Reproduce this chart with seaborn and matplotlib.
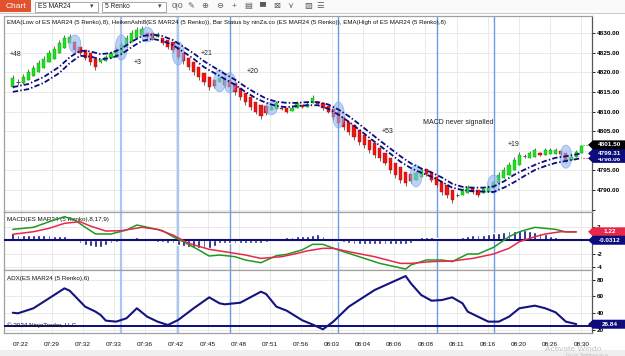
import numpy as np
import pandas as pd
import seaborn as sns
import matplotlib.pyplot as plt
from matplotlib.patches import Ellipse, Polygon, Rectangle
from matplotlib.ticker import FuncFormatter
from matplotlib.transforms import IdentityTransform, Bbox

# ---------------- datos (barras Renko / HeikenAshi) ----------------
bar_open = [4816.25, 4817.5, 4817.25, 4818.0, 4819.0, 4820.0, 4821.0, 4822.5, 4823.5, 4825.0,
            4826.25, 4827.5, 4827.75, 4826.5, 4825.75, 4825.0, 4823.5, 4822.5, 4822.75, 4823.75,
            4824.0, 4825.0, 4826.5, 4827.75, 4828.75, 4829.5, 4830.0, 4830.0, 4829.0, 4828.75,
            4828.25, 4827.75, 4826.5, 4825.0, 4823.75, 4822.5, 4821.25, 4819.75, 4818.75, 4818.0,
            4817.5, 4818.25, 4818.0, 4817.25, 4816.0, 4814.75, 4813.75, 4812.5, 4811.75, 4811.5,
            4810.5, 4810.75, 4811.0, 4811.0, 4810.25, 4811.0, 4811.75, 4811.25, 4812.25, 4812.5,
            4812.25, 4811.5, 4810.75, 4810.0, 4808.5, 4807.25, 4806.5, 4805.25, 4804.0, 4802.75,
            4802.0, 4800.75, 4799.5, 4798.25, 4797.0, 4795.75, 4794.5, 4794.0, 4792.5, 4793.25,
            4795.25, 4794.25, 4793.25, 4792.0, 4791.25, 4790.0, 4788.75, 4788.75, 4789.25, 4790.5,
            4790.0, 4789.25, 4789.5, 4790.5, 4791.75, 4793.0, 4793.75, 4795.0, 4796.5, 4798.75,
            4798.25, 4798.5, 4799.5, 4799.0, 4799.25, 4799.25, 4800.0, 4799.5, 4797.75, 4798.5,
            4799.5]
bar_close = [4818.5, 4817.5, 4818.75, 4820.0, 4821.0, 4822.25, 4823.5, 4825.0, 4826.0, 4827.5,
             4828.75, 4829.0, 4825.75, 4825.0, 4823.75, 4822.5, 4821.25, 4823.0, 4824.0, 4825.0,
             4825.75, 4827.0, 4828.75, 4830.0, 4830.75, 4831.0, 4829.0, 4828.75, 4829.75, 4827.5,
             4826.5, 4825.75, 4824.0, 4822.75, 4821.25, 4820.0, 4818.75, 4817.5, 4816.25, 4816.5,
             4818.5, 4816.75, 4816.25, 4815.0, 4813.75, 4812.5, 4811.25, 4810.0, 4808.75, 4809.5,
             4811.25, 4812.25, 4810.75, 4810.0, 4811.0, 4812.25, 4811.25, 4812.0, 4813.5, 4812.0,
             4811.0, 4810.0, 4808.5, 4807.0, 4806.0, 4804.75, 4803.5, 4802.25, 4801.5, 4800.25,
             4799.0, 4798.25, 4797.0, 4795.0, 4793.75, 4792.5, 4791.75, 4792.25, 4794.25, 4795.0,
             4794.0, 4792.5, 4791.25, 4789.5, 4788.75, 4787.5, 4788.75, 4790.0, 4790.75, 4789.5,
             4788.75, 4790.25, 4790.75, 4792.0, 4793.75, 4795.0, 4796.5, 4797.75, 4799.0, 4798.75,
             4799.5, 4800.25, 4799.0, 4800.25, 4800.25, 4800.25, 4799.25, 4797.75, 4798.5, 4799.75,
             4801.25]
bar_high = [4819.25, 4818.25, 4819.5, 4820.75, 4821.75, 4823.0, 4824.25, 4825.75, 4826.75, 4828.25,
            4829.5, 4829.75, 4828.0, 4826.5, 4825.75, 4825.0, 4823.5, 4823.5, 4824.5, 4825.5,
            4826.5, 4827.75, 4829.5, 4830.75, 4831.5, 4831.75, 4830.0, 4830.0, 4830.25, 4828.75,
            4828.25, 4827.75, 4826.5, 4825.0, 4823.75, 4822.5, 4821.25, 4819.75, 4818.75, 4818.0,
            4819.0, 4818.25, 4818.0, 4817.25, 4816.0, 4814.75, 4813.75, 4812.5, 4811.75, 4811.5,
            4811.75, 4812.75, 4811.25, 4811.0, 4811.5, 4812.75, 4811.75, 4812.5, 4814.25, 4812.5,
            4812.25, 4811.5, 4810.75, 4810.0, 4808.5, 4807.25, 4806.5, 4805.25, 4804.0, 4802.75,
            4802.0, 4800.75, 4799.5, 4798.25, 4797.0, 4795.75, 4794.5, 4794.0, 4794.75, 4795.5,
            4795.25, 4794.25, 4793.25, 4792.0, 4791.25, 4790.0, 4789.25, 4790.5, 4791.25, 4790.5,
            4790.0, 4790.75, 4791.25, 4792.5, 4794.5, 4795.75, 4797.25, 4798.5, 4799.75, 4799.25,
            4800.0, 4800.75, 4799.75, 4800.75, 4800.75, 4800.75, 4800.0, 4799.5, 4799.0, 4800.25,
            4801.5]
bar_low = [4816.0, 4816.75, 4817.0, 4818.0, 4819.0, 4820.0, 4821.0, 4822.5, 4823.5, 4825.0,
           4826.25, 4827.5, 4825.25, 4824.5, 4823.0, 4821.75, 4820.5, 4822.25, 4822.75, 4823.75,
           4824.0, 4825.0, 4826.5, 4827.75, 4828.75, 4829.5, 4828.5, 4828.25, 4829.0, 4827.0,
           4826.0, 4825.0, 4823.25, 4822.0, 4820.5, 4819.25, 4818.0, 4816.75, 4815.5, 4816.0,
           4817.5, 4816.25, 4815.5, 4814.25, 4813.0, 4811.75, 4810.5, 4809.25, 4808.0, 4809.0,
           4810.5, 4810.75, 4810.5, 4809.5, 4810.25, 4811.0, 4811.0, 4811.25, 4812.25, 4811.75,
           4810.5, 4809.5, 4807.75, 4806.25, 4805.25, 4804.0, 4802.75, 4801.5, 4800.75, 4799.5,
           4798.25, 4797.5, 4796.25, 4794.25, 4793.0, 4791.75, 4791.0, 4791.75, 4792.5, 4793.25,
           4793.5, 4792.0, 4790.75, 4788.75, 4788.0, 4786.75, 4788.25, 4788.75, 4789.25, 4789.0,
           4788.25, 4789.25, 4789.5, 4790.5, 4791.75, 4793.0, 4793.75, 4795.0, 4796.5, 4798.25,
           4798.25, 4798.5, 4798.75, 4799.0, 4799.25, 4799.25, 4798.75, 4797.0, 4797.75, 4798.5,
           4799.5]

ema_bar = [0, 3, 6, 9, 11, 13, 15, 17, 19, 21, 23, 25, 27, 29, 31, 33, 35, 37, 39, 41,
           43, 45, 47, 49, 51, 53, 55, 57, 59, 61, 63, 65, 67, 69, 71, 73, 75, 77, 79, 81,
           83, 85, 87, 89, 91, 93, 95, 97, 99, 101, 103, 105, 107, 110]
ema_high = [4816.2, 4817.0, 4818.8, 4821.4, 4823.8, 4825.5, 4825.3, 4824.6, 4824.9, 4826.0,
            4827.8, 4829.2, 4829.6, 4829.2, 4828.2, 4826.5, 4824.8, 4822.8, 4821.2, 4819.6,
            4818.1, 4816.3, 4814.7, 4813.3, 4812.5, 4812.2, 4812.2, 4812.4, 4812.4, 4811.8,
            4810.5, 4808.8, 4806.8, 4804.7, 4802.6, 4800.6, 4798.6, 4796.8, 4795.5, 4794.5,
            4793.2, 4791.6, 4790.8, 4790.6, 4790.6, 4790.9, 4792.2, 4793.9, 4795.2, 4796.4,
            4797.4, 4798.2, 4798.6, 4799.3]
ema_low = [4815.0, 4815.7, 4817.3, 4819.8, 4822.3, 4824.2, 4824.0, 4823.3, 4823.6, 4824.6,
           4826.4, 4828.0, 4828.5, 4828.0, 4826.9, 4825.2, 4823.4, 4821.3, 4819.8, 4818.3,
           4816.8, 4815.0, 4813.4, 4812.2, 4811.4, 4811.1, 4811.4, 4811.6, 4811.6, 4810.7,
           4809.2, 4807.4, 4805.4, 4803.3, 4801.3, 4799.3, 4797.2, 4795.6, 4794.4, 4793.4,
           4792.1, 4790.6, 4790.0, 4789.7, 4789.6, 4789.5, 4790.6, 4792.0, 4793.6, 4795.1,
           4796.1, 4796.9, 4797.4, 4798.1]

# señales (elipses) y líneas verticales
signal_bars = [21, 32, 42, 63, 82, 93]
marked_bars = [12, 21, 26, 32, 40, 42, 50, 63, 78, 93, 107]
marked_mid = [4827.2, 4826.3, 4829.6, 4824.8, 4817.8, 4817.3, 4810.8, 4809.1, 4793.6, 4791.5, 4798.5]
marked_span = [4.6, 6.4, 3.8, 5.9, 5.6, 5.1, 3.3, 6.6, 5.6, 4.6, 5.9]

notes = ["+48", "+3", "+21", "+20", "+53", "MACD never signalled", "+19"]
note_x = [0.45, 24.1, 37.5, 46.4, 72.6, 86.1, 96.9]
note_y = [4824.4, 4822.4, 4824.9, 4820.3, 4804.8, 4807.1, 4801.7]

# MACD(8,17,9)
macd_bar = [0, 4, 7, 10, 12, 14, 16, 19, 22, 24, 27, 29, 31, 33, 36, 38, 40, 43, 45, 48,
            51, 53, 56, 58, 60, 63, 67, 71, 76, 77, 80, 83, 85, 88, 90, 93, 96, 98, 101, 103,
            105, 107, 109]
macd_line = [1.58, 1.88, 2.7, 3.46, 2.95, 1.9, 0.9, 0.89, 1.48, 2.22, 1.73, 1.38, 0.49, -0.25, -1.48,
             -2.37, -2.22, -2.47, -2.96, -3.36, -2.32, -2.12, -1.45, -0.64, -0.64, -1.48, -2.47,
             -3.46, -4.3, -3.7, -2.96, -2.96, -3.2, -2.07, -2.07, -1.09, 0.49, 1.23, 1.88, 1.73,
             1.58, 1.2, 1.19]
signal_bar = [0, 4, 7, 10, 13, 15, 18, 21, 25, 28, 31, 34, 38, 41, 45, 48, 52, 55, 57, 60,
              62, 65, 70, 75, 77, 81, 85, 89, 93, 96, 98, 101, 103, 106, 109]
signal_line = [0.84, 1.23, 1.73, 2.47, 2.72, 2.07, 1.33, 1.38, 1.88, 1.58, 0.74, -0.49, -1.38,
               -1.73, -2.22, -2.72, -2.47, -1.98, -1.6, -1.23, -1.23, -1.73, -2.47, -3.46, -3.46,
               -3.2, -3.1, -2.72, -2.07, -1.23, -0.25, 0.49, 0.89, 1.23, 1.22]
macd_hist = [1.0, 0.7, 0.7, 0.7, 0.7, 0.7, 0.7, 0.7, 0.65, 0.65,
             0.6, 0.3, 0.0, -0.45, -0.7, -0.95, -1.1, -1.0, -0.75, -0.5,
             -0.3, 0.0, 0.15, 0.3, 0.4, 0.15, 0.0, -0.15, -0.25, -0.35,
             -0.45, -0.5, -0.7, -0.9, -1.0, -1.1, -1.15, -1.2, -1.2, -0.9,
             -0.5, -0.5, -0.5, -0.45, -0.45, -0.45, -0.45, -0.5, -0.5, -0.3,
             0.0, 0.35, 0.35, 0.45, 0.5, 0.6, 0.6, 0.65, 0.75, 0.85,
             0.6, 0.25, 0.0, -0.15, -0.35, -0.45, -0.6, -0.65, -0.65, -0.65,
             -0.65, -0.65, -0.65, -0.65, -0.65, -0.65, -0.65, -0.4, 0.0, 0.5,
             0.5, 0.4, 0.25, 0.15, 0.0, 0.0, 0.0, 0.5, 0.6, 0.75,
             0.75, 0.75, 0.9, 1.0, 1.1, 1.25, 1.35, 1.4, 1.45, 1.45,
             1.3, 1.15, 1.0, 0.9, 0.6, 0.5, 0.3, 0.1, -0.05, -0.05,
             -0.03]

# ADX(6)
adx_bar = [0, 1, 4, 7, 10, 11, 14, 16, 17, 18, 20, 22, 24, 26, 28, 30, 32, 35, 38, 40,
           41, 44, 48, 49, 51, 53, 56, 58, 60, 62, 65, 70, 74, 76, 77, 79, 81, 83, 85, 87,
           88, 90, 92, 94, 96, 98, 101, 103, 105, 107, 109]
adx_vals = [40.5, 39.8, 45.8, 57.6, 69.5, 66.7, 47.7, 41.8, 37.8, 31.1, 29.9, 33.9, 45.8, 35.8,
            29.9, 25.9, 31.9, 45.8, 58.8, 51.7, 50.5, 52.4, 65.5, 62.8, 47.7, 42.9, 31.5, 26.5,
            20.8, 29.9, 47.7, 67.5, 78.6, 84.1, 75.5, 61.6, 54.8, 55.6, 58.8, 51.7, 41.8, 35.8,
            29.9, 29.9, 35.8, 45.8, 48.9, 45.8, 41.0, 29.9, 27.0]

tick_pos = [1.5, 7.5, 13.6, 19.6, 25.6, 31.6, 37.7, 43.7, 49.7, 55.7, 61.8, 67.8, 73.8, 79.8,
            85.9, 91.9, 97.9, 103.9, 110.0]
tick_labels = ["07:22", "07:29", "07:32", "07:33", "07:36", "07:42", "07:45", "07:48", "07:51",
               "07:56", "08:03", "08:04", "08:06", "08:08", "08:11", "08:16", "08:20", "08:26", "08:30"]

# ---------------- figura ----------------
sns.set_style("white")
plt.rcParams['font.family'] = ['Liberation Sans', 'DejaVu Sans']

W, H = 625, 356
fig = plt.figure(figsize=(W / 100, H / 100), dpi=100)
fig.patch.set_facecolor('white')
NAVY = '#0c0c7c'


def px_axes(x0, y0, x1, y1):
    return fig.add_axes([x0 / W, 1 - y1 / H, (x1 - x0) / W, (y1 - y0) / H])


def px_rect(x0, y0, x1, y1, **kw):
    fig.add_artist(Rectangle((x0, H - y1), x1 - x0, y1 - y0, transform=IdentityTransform(), **kw))


def px_text(x, y, s, **kw):
    return fig.text(x / W, 1 - y / H, s, **kw)


ax1 = px_axes(4, 16, 592, 212)
ax2 = px_axes(4, 212, 592, 270)
ax3 = px_axes(4, 270, 592, 333)

for ax in (ax1, ax2, ax3):
    ax.set_xlim(-1.7, 112.05)
    ax.set_xticks(tick_pos)
    ax.grid(True, color='#e6e6e6', lw=0.6)
    ax.set_axisbelow(True)
    ax.yaxis.tick_right()
    ax.tick_params(axis='y', direction='out', length=2, width=0.6, pad=1.5,
                   labelsize=4.6, colors='#000000')
    for s in ax.spines.values():
        s.set_color('#a0a0a0')
        s.set_linewidth(0.9)
    ax.spines['right'].set_color('#555555')

ax1.tick_params(axis='x', length=0, labelbottom=False)
ax2.tick_params(axis='x', length=0, labelbottom=False)
ax3.set_xticklabels(tick_labels)
ax3.tick_params(axis='x', length=2, width=0.6, pad=4.5, labelsize=4.6, colors='#111111')

# ---- panel de precio ----
ax1.set_ylim(4784.4, 4834.33)
ax1.set_yticks(np.arange(4785, 4831, 5))
# 4785 sin etiqueta, 4800 queda tapada por las marcas de precio
ax1.yaxis.set_major_formatter(FuncFormatter(
    lambda v, p: '' if (v < 4787 or abs(v - 4800) < 0.1) else f'{v:.2f}'))

idx = np.arange(len(bar_open))
o = np.array(bar_open)
c = np.array(bar_close)
body = c != o
col = np.where(c > o, '#1fe01f', '#f01414')
edge = np.where(c > o, '#119a11', '#b00a0a')
ax1.vlines(idx, bar_low, bar_high, color='#505050', lw=0.6, zorder=2)
ax1.bar(idx[body], np.abs(c - o)[body], bottom=np.minimum(o, c)[body], width=0.62,
        color=col[body], edgecolor=edge[body], linewidth=0.3, zorder=3)
ax1.hlines(c[~body], idx[~body] - 0.35, idx[~body] + 0.35, color='#505050', lw=0.7, zorder=3)

for b, m, s in zip(marked_bars, marked_mid, marked_span):
    ax1.add_patch(Ellipse((b, m), 2.3, s, facecolor='#8db5ee', alpha=0.6,
                          edgecolor='#6f9de6', linewidth=0.6, zorder=4))

dashdot = (0, (3, 1.2, 0.8, 1.2))
sns.lineplot(x=ema_bar, y=ema_high, color=NAVY, lw=1.3, linestyle=dashdot, ax=ax1, zorder=5)
sns.lineplot(x=ema_bar, y=ema_low, color=NAVY, lw=1.3, linestyle=dashdot, ax=ax1, zorder=5)

ax1.hlines(4801.5, 110.3, 112.05, color='#1fbf1f', lw=0.8, linestyle=':', zorder=5)
ax1.hlines(4798.25, 110.3, 112.05, color='#e02020', lw=0.8, linestyle=':', zorder=5)

for t, x, y in zip(notes, note_x, note_y):
    ax1.text(x, y, t, fontsize=5, color='#222222', ha='center', va='center', zorder=6)

ax1.text(0.005, 0.965, "EMA(Low of ES MAR24 (5 Renko),8), HeikenAshi8(ES MAR24 (5 Renko)), "
         "Bar Status by ninZa.co (ES MAR24 (5 Renko)), EMA(High of ES MAR24 (5 Renko),8)",
         transform=ax1.transAxes, fontsize=4.4, color='#111111', ha='left', va='center')

# ---- panel MACD ----
ax2.set_ylim(-4.44, 4.15)
ax2.set_yticks([-4, -2, 0, 2])
ax2.set_yticklabels(['-4', '-2', '', '2'])
ax2.bar(idx, macd_hist, width=0.55, color=NAVY, zorder=3)
ax2.axhline(0, color=NAVY, lw=1.5, zorder=4)
sns.lineplot(x=macd_bar, y=macd_line, color='#1f9a1f', lw=1.1, ax=ax2, zorder=5)
sns.lineplot(x=signal_bar, y=signal_line, color='#e8284a', lw=1.1, ax=ax2, zorder=5)
ax2.text(0.005, 0.87, "MACD(ES MAR24 (5 Renko),8,17,9)", transform=ax2.transAxes,
         fontsize=4.5, color='#111111', ha='left', va='center')

# ---- panel ADX ----
ax3.set_ylim(16.4, 91.3)
ax3.set_yticks([20, 40, 60, 80])
ax3.axhline(25, color=NAVY, lw=1.4, zorder=4)
sns.lineplot(x=adx_bar, y=adx_vals, color='#14147e', lw=1.5, ax=ax3, zorder=5)
ax3.text(0.005, 0.86, "ADX(ES MAR24 (5 Renko),6)", transform=ax3.transAxes,
         fontsize=4.5, color='#111111', ha='left', va='center')
ax3.text(0.005, 0.12, "© 2024 NinjaTrader, LLC", transform=ax3.transAxes,
         fontsize=4.5, color='#111111', ha='left', va='center', zorder=6)

for ax in (ax1, ax2, ax3):
    for k, b in enumerate(signal_bars):
        light = k < 2
        ax.axvline(b, color='#a9c6f5' if light else '#6b9ae8', lw=1.6 if light else 1.0, zorder=1.5)
    ax.set_xlabel('')
    ax.set_ylabel('')
    for lab in ax.get_yticklabels():
        lab.set_fontweight('bold')

# ---- etiquetas de precio a la derecha ----
def tag(ax, value, text, fc, text_shift=0.0, clip_top=None):
    y = ax.transData.transform((0, value))[1]
    fig.add_artist(Polygon([(588, y), (593, y + 4.5), (625, y + 4.5), (625, y - 4.5), (593, y - 4.5)],
                           closed=True, transform=IdentityTransform(), facecolor=fc, edgecolor='none'))
    t = fig.text(609.5 / W, (y + text_shift) / H, text, color='white', fontsize=4.6,
                 fontweight='bold', ha='center', va='center')
    if clip_top is not None:
        # sólo la parte baja de esta etiqueta asoma bajo la siguiente
        t.set_clip_box(Bbox([[588, y - 6], [625, clip_top]]))
        t.set_clip_on(True)


y_ema = ax1.transData.transform((0, 4799.31))[1]
tag(ax1, 4798.06, "4798.06", NAVY, text_shift=-1.5, clip_top=y_ema - 4.5)
tag(ax1, 4799.31, "4799.31", NAVY)
tag(ax1, 4801.50, "4801.50", '#000000')
tag(ax2, 1.22, "1.22", '#e8284a')
tag(ax2, -0.0312, "-0.0312", NAVY)
tag(ax3, 26.84, "26.84", NAVY)

# ---- barra de herramientas ----
px_rect(0, 0, 625, 13, facecolor='#fafafa', edgecolor='none')
px_rect(0, 13, 625, 14, facecolor='#c8c8c8', edgecolor='none')
px_rect(0, 0, 31, 12, facecolor='#e4512f', edgecolor='none')
px_text(15.5, 6, "Chart", fontsize=6, color='white', ha='center', va='center')
for x0, x1, s in [(35, 98, "ES MAR24"), (102, 166, "5 Renko")]:
    px_rect(x0, 1.5, x1, 11.5, facecolor='white', edgecolor='#9a9a9a', linewidth=0.6)
    px_text(x0 + 3, 6.5, s, fontsize=4.8, color='#222222', ha='left', va='center')
    px_text(x1 - 6, 6.5, "▾", fontsize=5, color='#444444', ha='center', va='center')
for x, g in [(177, "0|0"), (191, "✎"), (205, "⊕"), (220, "⊖"), (234, "+"), (248, "▤"),
             (263, "▀"), (277, "⊠"), (291, "⋎"), (308, "▧"), (320, "☰")]:
    px_text(x, 6.5, g, fontsize=6, color='#5a5a5a', ha='center', va='center')

px_rect(0, 350, 625, 356, facecolor='#efefef', edgecolor='none')
px_text(545, 349.5, "Activate Windo", fontsize=6, color='#c4c4c4', ha='left', va='center')
px_text(566, 355, "Go to Settings to a", fontsize=3.6, color='#b8b8b8', ha='left', va='center')

fig.savefig("out.png", dpi=100)
